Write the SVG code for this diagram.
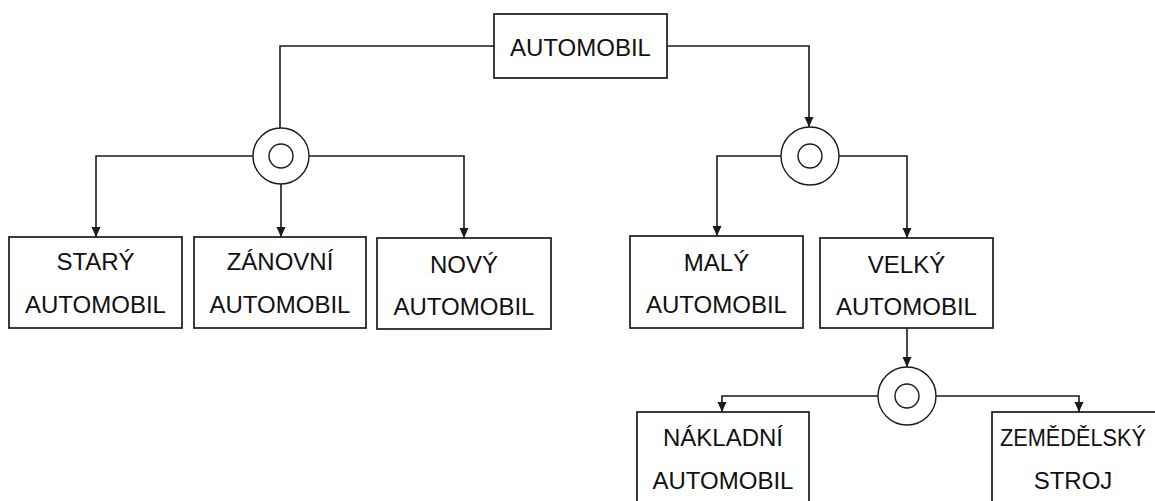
<svg xmlns="http://www.w3.org/2000/svg" width="1155" height="501" viewBox="0 0 1155 501">
  <style>
    .box { fill: #ffffff; stroke: #1a1a1a; stroke-width: 1.7; }
    .lbl { font-family: "Liberation Sans", Arial, sans-serif; font-size: 24px; fill: #111111; text-anchor: middle; }
    .wire { fill: none; stroke: #1a1a1a; stroke-width: 1.6; }
    .arr { marker-end: url(#head); }
    .ring { fill: #ffffff; stroke: #1a1a1a; stroke-width: 1.4; }
  </style>
  <defs>
    <marker id="head" markerUnits="userSpaceOnUse" markerWidth="12" markerHeight="12" viewBox="-1 -6 12 12" refX="10" refY="0" orient="auto">
      <path d="M0,-4.5 L10,0 L0,4.5 z" fill="#1a1a1a"/>
    </marker>
  </defs>

  <!-- connectors -->
  <g id="connectors">
    <path class="wire" d="M494,46 H280 V128"/>
    <path class="wire arr" d="M667,46 H809 V127"/>
    <path class="wire arr" d="M253,156 H96 V237"/>
    <path class="wire arr" d="M281,184 V237"/>
    <path class="wire arr" d="M309,156 H464 V238"/>
    <path class="wire arr" d="M781,156 H717 V236"/>
    <path class="wire arr" d="M839,156 H907 V238"/>
    <path class="wire arr" d="M907,328 V367"/>
    <path class="wire arr" d="M878,396 H722 V412"/>
    <path class="wire arr" d="M936,396 H1079 V412"/>
  </g>

  <!-- decomposition junctions -->
  <g id="junction-1">
    <circle class="ring" cx="281" cy="156" r="28"/>
    <circle class="ring" cx="281" cy="156" r="12"/>
  </g>
  <g id="junction-2">
    <circle class="ring" cx="810" cy="156" r="29"/>
    <circle class="ring" cx="810" cy="156" r="12"/>
  </g>
  <g id="junction-3">
    <circle class="ring" cx="907" cy="396" r="29"/>
    <circle class="ring" cx="907" cy="396" r="12"/>
  </g>

  <g id="automobil">
    <rect class="box" x="494" y="14" width="173" height="64"/>
    <text class="lbl" x="580.5" y="56">AUTOMOBIL</text>
  </g>

  <g id="stary">
    <rect class="box" x="9" y="237" width="173" height="91"/>
    <text class="lbl" x="95.5" y="270">STARÝ</text>
    <text class="lbl" x="95.5" y="313">AUTOMOBIL</text>
  </g>

  <g id="zanovni">
    <rect class="box" x="194" y="237" width="172" height="91"/>
    <text class="lbl" x="280" y="270">ZÁNOVNÍ</text>
    <text class="lbl" x="280" y="313">AUTOMOBIL</text>
  </g>

  <g id="novy">
    <rect class="box" x="377" y="238" width="174" height="91"/>
    <text class="lbl" x="464" y="273">NOVÝ</text>
    <text class="lbl" x="464" y="315">AUTOMOBIL</text>
  </g>

  <g id="maly">
    <rect class="box" x="630" y="236" width="173" height="92"/>
    <text class="lbl" x="716.5" y="271">MALÝ</text>
    <text class="lbl" x="716.5" y="313">AUTOMOBIL</text>
  </g>

  <g id="velky">
    <rect class="box" x="820" y="238" width="173" height="90"/>
    <text class="lbl" x="906.5" y="273">VELKÝ</text>
    <text class="lbl" x="906.5" y="315">AUTOMOBIL</text>
  </g>

  <g id="nakladni">
    <rect class="box" x="637" y="412" width="172" height="94"/>
    <text class="lbl" x="723" y="446">NÁKLADNÍ</text>
    <text class="lbl" x="723" y="489">AUTOMOBIL</text>
  </g>

  <g id="zemedelsky">
    <rect class="box" x="992" y="412" width="173" height="94"/>
    <text class="lbl" x="1073" y="446" textLength="146" lengthAdjust="spacingAndGlyphs">ZEMĚDĚLSKÝ</text>
    <text class="lbl" x="1073" y="489">STROJ</text>
  </g>
</svg>
